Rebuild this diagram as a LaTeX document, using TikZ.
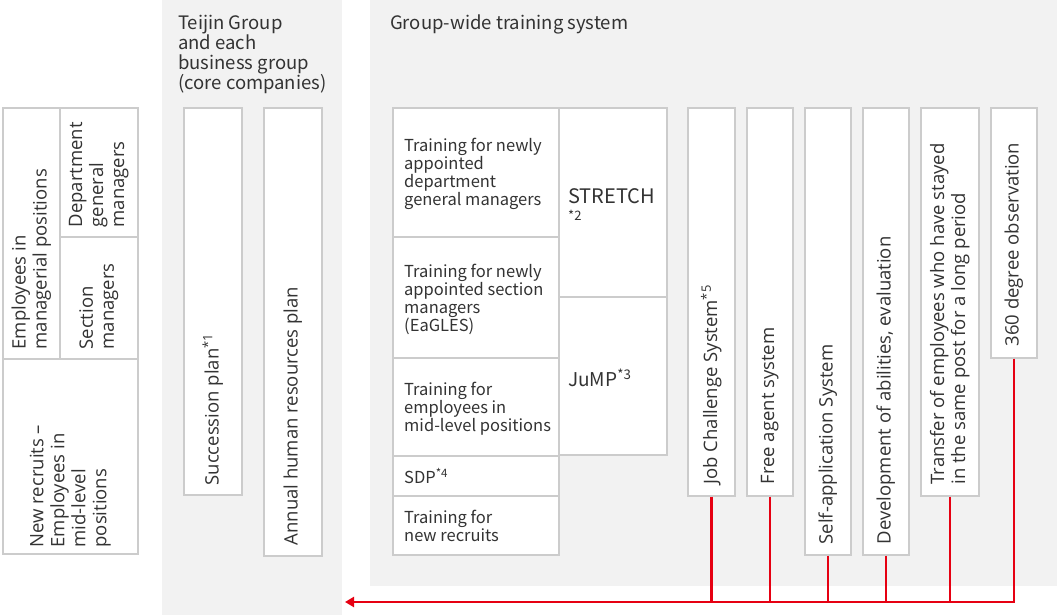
\documentclass[tikz,border=0pt]{standalone}
\usepackage{fontspec}
\setmainfont{Open Sans}
\newfontfamily\cjksans{Noto Sans CJK JP}
\usetikzlibrary{positioning,arrows.meta}
\definecolor{panelgray}{HTML}{F2F2F2}
\definecolor{linegray}{HTML}{CCCCCC}
\definecolor{inkgray}{HTML}{333333}
\definecolor{teijinred}{HTML}{E60012}

\begin{document}
\begin{tikzpicture}[x=1pt,y=-1pt,
  cell/.style={draw=linegray,line width=1.6pt,fill=white,anchor=north west,inner sep=0pt},
  vtext/.style={rotate=90,anchor=west,align=left,inner sep=0pt,text=inkgray,font=\fontsize{18.5}{21}\selectfont},
  htext/.style={anchor=west,align=left,inner sep=0pt,yshift=-2pt,text=inkgray,font=\cjksans\fontsize{16.5}{18}\selectfont},
  head/.style={anchor=north west,align=left,inner sep=0pt,text=inkgray,font=\cjksans\fontsize{18.5}{20}\selectfont},
  link/.style={draw=teijinred,line width=2.4pt},
  arr/.style={link,-{Triangle[length=9pt,width=10pt]}}
]
\useasboundingbox (0,0) rectangle (1057,615);
\fill[white] (0,0) rectangle (1057,615);
\fill[panelgray] (162,0) rectangle (342,615);
\fill[panelgray] (370,0) rectangle (1057,586);

% positions
\node[cell,minimum width=57pt,minimum height=251pt] (mgr) at (2,107) {};
\node[cell,minimum width=78pt,minimum height=129pt] (dept) at (59,107) {};
\node[cell,minimum width=78pt,minimum height=122pt] (sect) at (59,236) {};
\node[cell,minimum width=135pt,minimum height=195pt] (recr) at (2,358) {};
\node[vtext] at ([yshift=10pt]mgr.south) {Employees in\\managerial positions};
\node[vtext] at ([yshift=10pt]dept.south) {Department\\general\\managers};
\node[vtext] at ([yshift=10pt]sect.south) {Section\\managers};
\node[vtext] at ([yshift=7pt]recr.south) {New recruits --\\Employees in\\mid-level\\positions};

% Teijin Group and each business group
\node[head] (grouphead) at (178,15) {Teijin Group\\and each\\business group\\(core companies)};
\node[cell,minimum width=58pt,minimum height=387pt] (succ) at (183,107) {};
\node[cell,minimum width=58pt,minimum height=448pt] (annual) at (263,107) {};
\node[vtext] at ([yshift=10pt]succ.south) {Succession plan\textsuperscript{*1}};
\node[vtext] at ([yshift=11pt]annual.south) {Annual human resources plan};

% Group-wide training system
\node[head] (trainhead) at (390,15) {Group-wide training system};
\node[cell,minimum width=166pt,minimum height=129pt] (newgm) at (392,107) {};
\node[cell,minimum width=166pt,minimum height=121pt] (newsm) at (392,236) {};
\node[cell,minimum width=166pt,minimum height=98pt] (mid) at (392,357) {};
\node[cell,minimum width=166pt,minimum height=40pt] (sdp) at (392,455) {};
\node[cell,minimum width=166pt,minimum height=59pt] (recruit) at (392,495) {};
\node[cell,minimum width=108pt,minimum height=189pt] (stretch) at (558,107) {};
\node[cell,minimum width=108pt,minimum height=158pt] (jump) at (558,296) {};
\node[htext,right=12pt of newgm.west] {Training for newly\\appointed\\department\\general managers};
\node[htext,right=12pt of newsm.west] {Training for newly\\appointed section\\managers\\(EaGLES)};
\node[htext,right=12pt of mid.west] {Training for\\employees in\\mid-level positions};
\node[htext,right=12pt of sdp.west,yshift=2pt] {SDP\textsuperscript{*4}};
\node[htext,right=12pt of recruit.west,yshift=1pt] {Training for\\new recruits};
\node[htext,right=10pt of stretch.west,font=\cjksans\fontsize{20}{17}\selectfont] {STRETCH\\{\fontsize{13}{13}\selectfont *2}};
\node[htext,right=10pt of jump.west,font=\cjksans\fontsize{19}{20}\selectfont] {JuMP\textsuperscript{*3}};

\node[cell,minimum width=47pt,minimum height=388pt] (job) at (687,107) {};
\node[cell,minimum width=46pt,minimum height=388pt] (free) at (746,107) {};
\node[cell,minimum width=46pt,minimum height=447pt] (self) at (804,107) {};
\node[cell,minimum width=46pt,minimum height=447pt] (devel) at (862,107) {};
\node[cell,minimum width=58pt,minimum height=388pt] (trans) at (920,107) {};
\node[cell,minimum width=46pt,minimum height=250pt] (obs) at (990,107) {};
\node[vtext] at ([yshift=12pt]job.south) {Job Challenge System\textsuperscript{*5}};
\node[vtext] at ([yshift=12pt]free.south) {Free agent system};
\node[vtext] at ([yshift=11pt]self.south) {Self-application System};
\node[vtext] at ([yshift=11pt]devel.south) {Development of abilities, evaluation};
\node[vtext] at ([yshift=12pt]trans.south) {Transfer of employees who have stayed\\in the same post for a long period};
\node[vtext] at ([yshift=12pt]obs.south) {360 degree observation};

% red feedback line
\coordinate (tip) at (345,602);
\foreach \b in {job,free,self,devel,trans}
  \draw[link] (\b.south) -- (\b.south |- tip);
\draw[arr] (obs.south) |- (tip);
\end{tikzpicture}
\end{document}
